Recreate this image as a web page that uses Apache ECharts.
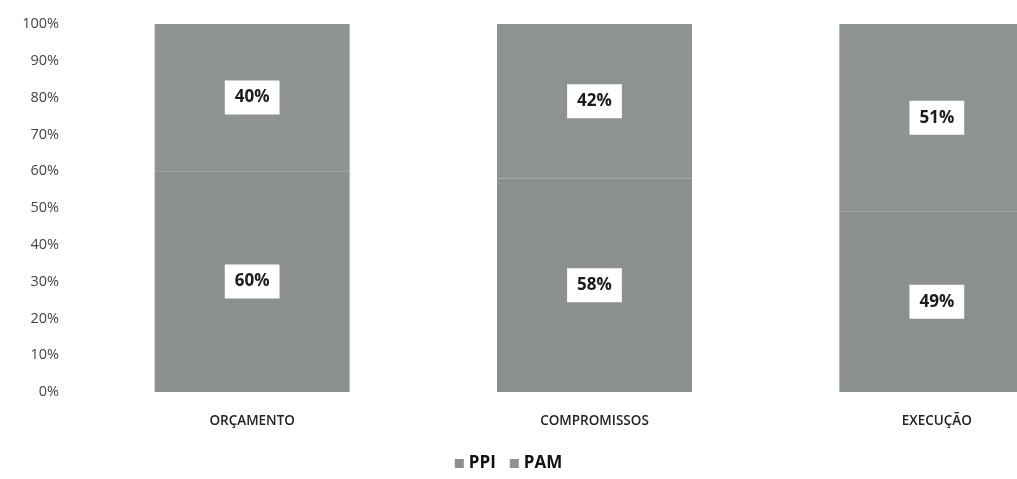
<!DOCTYPE html>
<html><head><meta charset="utf-8">
<script src="https://cdn.jsdelivr.net/npm/echarts@6/dist/echarts.min.js"></script>
<style>html,body{margin:0;padding:0;background:#fff}#c{width:1017px;height:479px}</style>
</head><body><div id="c"></div>
<script>
const categories = ['ORÇAMENTO', 'COMPROMISSOS', 'EXECUÇÃO'];
const ppi = [60, 58, 49];
const pam = [40, 42, 51];
const yTicks = [0,10,20,30,40,50,60,70,80,90,100];

const chart = echarts.init(document.getElementById('c'));
const lbl = {
  show: true, position: 'inside', formatter: p => p.value + '%',
  backgroundColor: '#fff', color: '#1a1a1a', fontWeight: 'bold',
  fontFamily: 'Open Sans', fontSize: 17, padding: [9, 10, 8, 10]
};
chart.setOption({
  animation: false,
  grid: { left: 81, top: 24, right: -91, bottom: 87, containLabel: false, outerBoundsMode: 'none' },
  legend: {
    bottom: 2, left: 'center', icon: 'rect', itemWidth: 9, itemHeight: 9, itemGap: 14,
    textStyle: { fontFamily: 'Open Sans', fontWeight: 'bold', fontSize: 17, color: '#111' },
    data: ['PPI', 'PAM']
  },
  xAxis: {
    type: 'category', data: categories,
    axisLine: { show: false }, axisTick: { show: false },
    axisLabel: { fontFamily: 'Open Sans', fontSize: 13.5, fontWeight: 600, color: '#222', margin: 22 }
  },
  yAxis: {
    type: 'value', min: 0, max: 100, interval: 10,
    splitLine: { show: false }, axisLine: { show: false }, axisTick: { show: false },
    axisLabel: { formatter: v => yTicks.includes(v) ? v + '%' : '', fontFamily: 'Open Sans', fontSize: 14.5, color: '#444', margin: 22 }
  },
  series: [
    { name: 'PPI', type: 'bar', stack: 's', data: ppi, barWidth: 195,
      itemStyle: { color: '#8a918d' }, label: lbl },
    { name: 'PAM', type: 'bar', stack: 's', data: pam, barWidth: 195,
      itemStyle: { color: '#8d9490' }, label: lbl }
  ]
});
</script></body></html>
